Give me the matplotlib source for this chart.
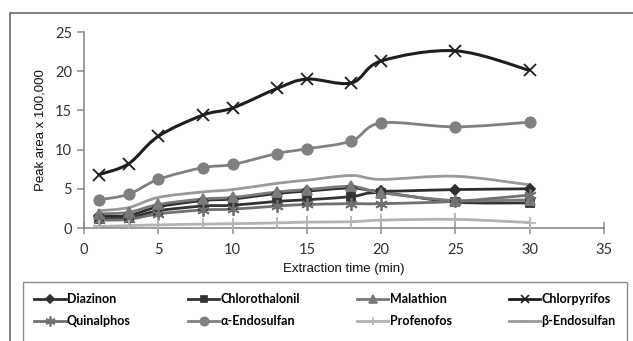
import numpy as np
import matplotlib
matplotlib.use("Agg")
import matplotlib.pyplot as plt
from matplotlib.path import Path
from matplotlib.patches import PathPatch, Rectangle
from matplotlib.lines import Line2D

plt.rcParams["font.family"] = ["Lato", "DejaVu Sans"]

# extraction time (min)
times = [1, 3, 5, 8, 10, 13, 15, 18, 20, 25, 30]

# peak area x 100,000
diazinon = [1.5, 1.6, 2.7, 3.5, 3.7, 4.4, 4.7, 5.1, 4.7, 4.9, 5.0]
chlorothalonil = [1.2, 1.3, 2.2, 2.8, 2.9, 3.4, 3.6, 4.0, 4.5, 3.3, 3.2]
malathion = [1.8, 2.0, 3.0, 3.7, 3.9, 4.6, 4.9, 5.3, 4.5, 3.5, 3.6]
chlorpyrifos = [6.8, 8.2, 11.7, 14.4, 15.3, 17.8, 19.0, 18.5, 21.3, 22.6, 20.1]
quinalphos = [1.0, 1.1, 1.8, 2.3, 2.4, 2.8, 3.0, 3.1, 3.1, 3.4, 4.2]
a_endosulfan = [3.6, 4.3, 6.2, 7.7, 8.1, 9.5, 10.1, 11.1, 13.4, 12.9, 13.5]
profenofos = [0.2, 0.3, 0.4, 0.5, 0.55, 0.65, 0.75, 0.8, 1.0, 1.1, 0.7]
b_endosulfan = [2.2, 2.6, 3.9, 4.6, 4.9, 5.7, 6.1, 6.7, 6.2, 6.6, 5.5]

series = [
    ("Diazinon", diazinon, "#2e2e2e", "D", 5),
    ("Chlorothalonil", chlorothalonil, "#333333", "s", 5.5),
    ("Malathion", malathion, "#7a7a7a", "^", 7),
    ("Chlorpyrifos", chlorpyrifos, "#1e1e1e", "x", 8),
    ("Quinalphos", quinalphos, "#707070", (6, 2, 0), 9),
    ("\u03b1-Endosulfan", a_endosulfan, "#808080", "o", 7.5),
    ("Profenofos", profenofos, "#b3b3b3", "+", 8),
    ("\u03b2-Endosulfan", b_endosulfan, "#999999", "_", 6),
]


def smooth_path(x, y):
    # bezier through the points, like the smoothed lines of a spreadsheet chart
    pts = np.column_stack([x, y]).astype(float)
    n = len(pts)
    verts = [pts[0]]
    codes = [Path.MOVETO]
    for i in range(n - 1):
        p0 = pts[max(i - 1, 0)]
        p1 = pts[i]
        p2 = pts[i + 1]
        p3 = pts[min(i + 2, n - 1)]
        verts += [p1 + (p2 - p0) / 6, p2 - (p3 - p1) / 6, p2]
        codes += [Path.CURVE4] * 3
    return Path(verts, codes)


fig = plt.figure(figsize=(6.33, 3.41), dpi=100)

# outer chart frame and legend box (both run off the bottom of the image)
fig.patches.append(Rectangle((10 / 633, -0.1), 1.0, 1 - 13 / 341 + 0.1,
                             transform=fig.transFigure, fill=False,
                             edgecolor="#6a6a6a", lw=1.2))
fig.patches.append(Rectangle((23 / 633, -0.1), 604 / 633, 1 - 282 / 341 + 0.1,
                             transform=fig.transFigure, fill=False,
                             edgecolor="#8c8c8c", lw=1.0))

ax = fig.add_axes([84 / 633, 1 - 228 / 341, 520 / 633, 196 / 341])

handles = []
for name, vals, color, marker, ms in series:
    lw = 2.2 if name == "Chlorpyrifos" else 2.0
    ax.add_patch(PathPatch(smooth_path(times, vals), fill=False,
                           edgecolor=color, lw=lw, zorder=2))
    if name != "\u03b2-Endosulfan":
        ax.plot(times, vals, linestyle="none", marker=marker, ms=ms,
                color=color, mec=color, mew=1.3, zorder=3)
    handles.append(Line2D([], [], color=color, lw=2, marker=marker,
                          ms=ms * 0.8, mew=1.2, label=name))

ax.set_xlim(0, 35)
ax.set_ylim(0, 25)
ax.set_xticks(range(0, 36, 5))
ax.set_yticks(range(0, 26, 5))
for s in ["top", "right"]:
    ax.spines[s].set_visible(False)
for s in ["left", "bottom"]:
    ax.spines[s].set_color("#8c8c8c")
    ax.spines[s].set_linewidth(1.2)
ax.tick_params(colors="#8c8c8c", labelcolor="#333333", labelsize=10.5,
               length=5, width=1.1)
ax.tick_params(axis="x", direction="inout", length=8, pad=7)

ax.set_xlabel("Extraction time (min)", fontsize=9.5, family="Liberation Sans",
              color="#111111", labelpad=4)
ax.set_ylabel("Peak area x 100,000", fontsize=9.5, family="Liberation Sans",
              color="#111111", labelpad=6)

# legend fills column by column, so interleave to get the row order
order = [0, 4, 1, 5, 2, 6, 3, 7]
leg = fig.legend(handles=[handles[i] for i in order], loc="upper left", ncol=4,
                 mode="expand",
                 bbox_to_anchor=(23 / 633, 1 - 282 / 341, 604 / 633, 0.0),
                 prop={"weight": "bold", "size": 9, "family": "Lato"},
                 frameon=False, handlelength=2.5, handletextpad=0.1,
                 borderpad=0.9, labelspacing=0.8, borderaxespad=0)

fig.savefig("out.png", dpi=100)
